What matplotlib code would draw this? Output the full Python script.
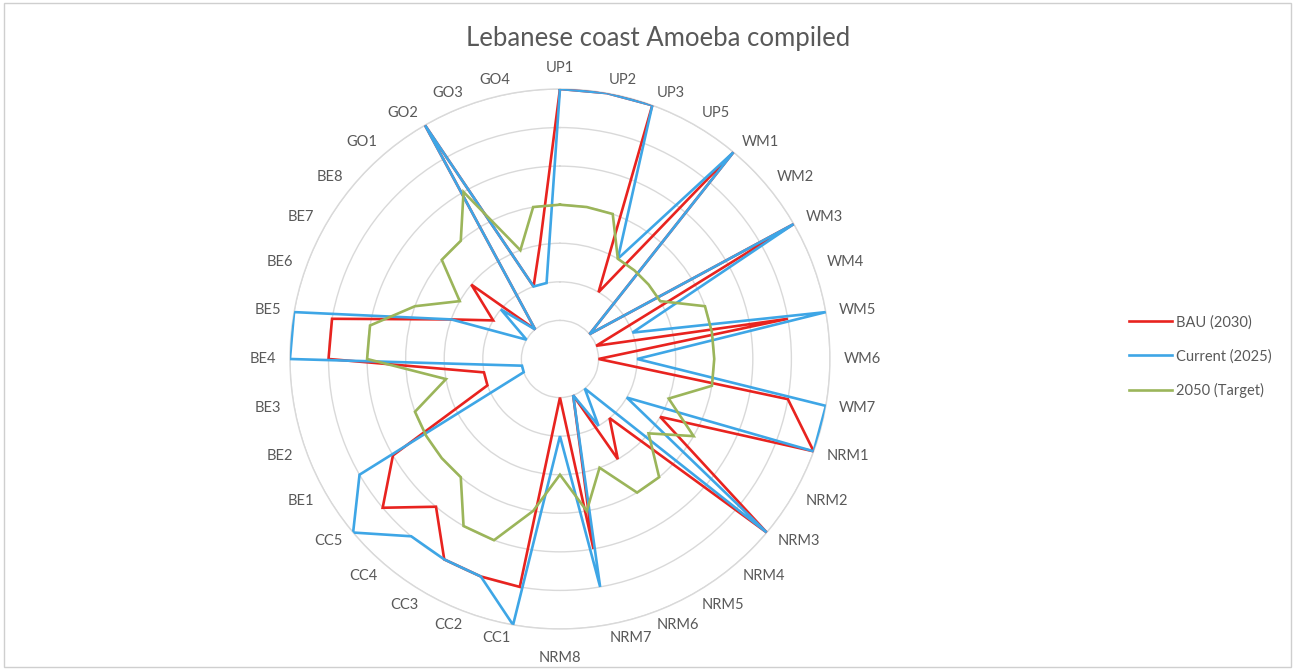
import numpy as np
import matplotlib
matplotlib.use("Agg")
import matplotlib.pyplot as plt
from matplotlib.lines import Line2D
from matplotlib.patches import Rectangle

plt.rcParams["font.family"] = ["Lato", "DejaVu Sans"]

# ── Indicator scores per axis (clockwise from the top) ──
categories = ["UP1", "UP2", "UP3", "UP5",
              "WM1", "WM2", "WM3", "WM4", "WM5", "WM6", "WM7",
              "NRM1", "NRM2", "NRM3", "NRM4", "NRM5", "NRM6", "NRM7", "NRM8",
              "CC1", "CC2", "CC3", "CC4", "CC5",
              "BE1", "BE2", "BE3", "BE4", "BE5", "BE6", "BE7", "BE8",
              "GO1", "GO2", "GO3", "GO4"]

bau_2030 = [7, 7, 7, 2,
            7, 1, 7, 1, 6, 1, 6,
            7, 3, 7, 2, 3, 1, 5, 1,
            6, 6, 6, 5, 6,
            5, 2, 2, 6, 6, 3, 2, 3,
            1, 7, 2, 3]

current_2025 = [7, 7, 7, 3,
                7, 1, 7, 2, 7, 2, 7,
                7, 2, 7, 1, 2, 1, 6, 2,
                7, 6, 6, 6, 7,
                6, 1, 1, 7, 7, 3, 1, 2,
                1, 7, 2, 2]

target_2050 = [4, 4, 4, 3,
               3, 3, 3, 4, 4, 4, 4,
               3, 4, 3, 4, 4, 3, 4, 3,
               4, 5, 5, 4, 4,
               4, 4, 3, 5, 5, 4, 3, 4,
               4, 5, 3, 4]

series = [("BAU (2030)", bau_2030, "#e8231f"),
          ("Current (2025)", current_2025, "#3ea6e6"),
          ("2050 (Target)", target_2050, "#9bb55a")]

TEXT_GREY = "#595959"
GRID_GREY = "#d9d9d9"
R_MAX = 7

n = len(categories)
angles = np.arange(n) * 2 * np.pi / n

fig = plt.figure(figsize=(12.95, 6.70), dpi=100)
ax = fig.add_axes([0.2239, 0.0612, 0.417, 0.806], projection="polar")
ax.set_theta_zero_location("N")
ax.set_theta_direction(-1)
ax.set_ylim(0, R_MAX)

# radial rings only, no spokes
ax.set_yticks(range(1, R_MAX + 1))
ax.set_yticklabels([])
ax.set_xticks([])
ax.yaxis.grid(True, color=GRID_GREY, lw=1.0)
ax.xaxis.grid(False)
ax.spines["polar"].set_color(GRID_GREY)
ax.spines["polar"].set_linewidth(1.0)

for z, (name, vals, col) in enumerate(series):
    th = np.append(angles, angles[0])
    rv = np.append(vals, vals[0])
    ax.plot(th, rv, color=col, lw=1.9, label=name, zorder=3 + z,
            solid_joinstyle="miter")

# category labels just outside the outer ring
for a, lab in zip(angles, categories):
    s, c = np.sin(a), np.cos(a)
    r_lab = R_MAX * 1.05
    if abs(s) < 0.05:
        ha = "center"
        va = "bottom" if c > 0 else "top"
        if c < 0:
            r_lab = R_MAX * 1.08
    else:
        ha = "left" if s > 0 else "right"
        va = "center"
    ax.text(a, r_lab, lab, ha=ha, va=va, fontsize=10.5,
            color=TEXT_GREY, clip_on=False)

fig.text(0.508, 0.943, "Lebanese coast Amoeba compiled", ha="center",
         va="center", fontsize=18.5, color=TEXT_GREY)

handles = [Line2D([0], [0], color=col, lw=1.9) for _, _, col in series]
fig.legend(handles, [s[0] for s in series], loc="center left",
           bbox_to_anchor=(0.862, 0.468), frameon=False, fontsize=10.5,
           handlelength=2.9, handletextpad=0.3, labelspacing=1.35,
           labelcolor=TEXT_GREY)

fig.patches.append(Rectangle((0.003, 0.005), 0.994, 0.99,
                             transform=fig.transFigure, fill=False,
                             edgecolor="#cfcfcf", lw=1.0))

fig.savefig("out.png", dpi=100)
